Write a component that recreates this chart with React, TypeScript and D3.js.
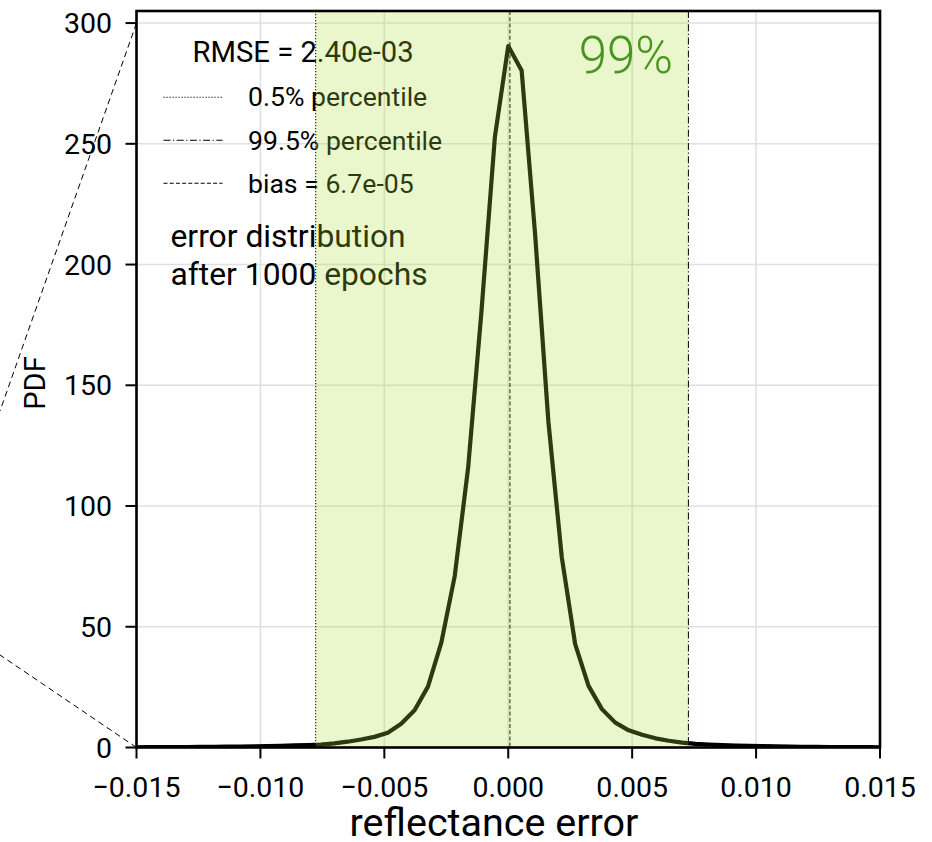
import React from "react";
import * as d3 from "d3";

// ---- data ----
const BIN_CENTERS = [
  -0.01512, -0.01458, -0.01404, -0.0135, -0.01296, -0.01242, -0.01188, -0.01134,
  -0.0108, -0.01026, -0.00972, -0.00918, -0.00864, -0.0081, -0.00756, -0.00702,
  -0.00648, -0.00594, -0.0054, -0.00486, -0.00432, -0.00378, -0.00324, -0.0027,
  -0.00216, -0.00162, -0.00108, -0.00054, 0.0, 0.00054, 0.00108, 0.00162, 0.00216,
  0.0027, 0.00324, 0.00378, 0.00432, 0.00486, 0.0054, 0.00594, 0.00648, 0.00702,
  0.00756, 0.0081, 0.00864, 0.00918, 0.00972, 0.01026, 0.0108, 0.01134, 0.01188,
  0.01242, 0.01296, 0.0135, 0.01404, 0.01458, 0.01512,
];
const PDF_VALUES = [
  0.1, 0.12, 0.14, 0.17, 0.2, 0.25, 0.3, 0.35, 0.42, 0.5, 0.6, 0.7, 0.85, 1.0,
  1.2, 1.7, 2.4, 3.3, 4.4, 6.1, 9.8, 15.4, 25.2, 43.4, 71, 115.7, 180.7, 252.8,
  290.5, 280.4, 213, 134.9, 78.8, 42.8, 25.5, 15.9, 10.3, 7.1, 5.3, 3.8, 2.8, 2.0,
  1.5, 1.2, 1.0, 0.8, 0.65, 0.55, 0.45, 0.38, 0.3, 0.25, 0.2, 0.17, 0.14, 0.12, 0.1,
];
const X_TICKS = [-0.015, -0.01, -0.005, 0, 0.005, 0.01, 0.015];
const Y_TICKS = [0, 50, 100, 150, 200, 250, 300];
const X_DOMAIN = [-0.015, 0.015];
const Y_DOMAIN = [0, 305];
const P_LOW = -0.00777;
const P_HIGH = 0.00727;
const BIAS = 6.7e-5;
const LEGEND_ITEMS = [
  { label: "0.5% percentile", dash: "1.2,1.8" },
  { label: "99.5% percentile", dash: "7,2.5,1.2,2.5" },
  { label: "bias = 6.7e-05", dash: "4,2.2" },
];
const RMSE_TEXT = "RMSE = 2.40e-03";
const NOTE_LINES = ["error distribution", "after 1000 epochs"];
const COVER_TEXT = "99%";
const X_LABEL = "reflectance error";
const Y_LABEL = "PDF";

const W = 932;
const H = 842;
const L = 136.5, R = 880, T = 11, B = 747.5;
const FONT = "Roboto, 'Noto Sans', sans-serif";

function fmtX(v: number) {
  const s = Math.abs(v).toFixed(3);
  return v < 0 ? "\u2212" + s : s;
}

export default function App() {
  const x = d3.scaleLinear().domain(X_DOMAIN).range([L, R]);
  const y = d3.scaleLinear().domain(Y_DOMAIN).range([B, T]);
  const pts = BIN_CENTERS.map((c, i) => [c, PDF_VALUES[i]] as [number, number]);
  const line = d3
    .line<[number, number]>()
    .x((d) => x(d[0]))
    .y((d) => y(d[1]));

  return (
    <div style={{ position: "fixed", left: 0, top: 0 }}>
      <svg width={W} height={H} style={{ display: "block", background: "#fff" }}>
        <defs>
          <clipPath id="plot">
            <rect x={L} y={T} width={R - L} height={B - T} />
          </clipPath>
        </defs>
        {/* grid */}
        <g stroke="#e0e0e0" strokeWidth={1.6}>
          {X_TICKS.map((t) => (
            <line key={"gx" + t} x1={x(t)} x2={x(t)} y1={T} y2={B} />
          ))}
          {Y_TICKS.map((t) => (
            <line key={"gy" + t} x1={L} x2={R} y1={y(t)} y2={y(t)} />
          ))}
        </g>
        {/* curve */}
        <path
          d={line(pts) || ""}
          fill="none"
          stroke="#000"
          strokeWidth={4.2}
          strokeLinejoin="round"
          clipPath="url(#plot)"
        />
        {/* vertical reference lines */}
        <line x1={x(P_LOW)} x2={x(P_LOW)} y1={T} y2={B} stroke="#000" strokeWidth={1.1} strokeDasharray={LEGEND_ITEMS[0].dash} />
        <line x1={x(P_HIGH)} x2={x(P_HIGH)} y1={T} y2={B} stroke="#000" strokeWidth={1.1} strokeDasharray={LEGEND_ITEMS[1].dash} />
        <line x1={x(BIAS)} x2={x(BIAS)} y1={T} y2={B} stroke="#000" strokeWidth={1.1} strokeDasharray={LEGEND_ITEMS[2].dash} />
        {/* legend */}
        <text x={192.5} y={62.3} fontFamily={FONT} fontSize={29.2} fill="#000">
          {RMSE_TEXT}
        </text>
        {LEGEND_ITEMS.map((it, i) => (
          <g key={it.label}>
            <line
              x1={163.5}
              x2={222.5}
              y1={97.3 + i * 43}
              y2={97.3 + i * 43}
              stroke="#000"
              strokeWidth={1.1}
              strokeDasharray={it.dash}
            />
            <text x={248} y={106 + i * 43.6} fontFamily={FONT} fontSize={26.6} fill="#000">
              {it.label}
            </text>
          </g>
        ))}
        {NOTE_LINES.map((s, i) => (
          <text key={s} x={170.5} y={246.7 + i * 38.3} fontFamily={FONT} fontSize={31.8} fill="#000">
            {s}
          </text>
        ))}
        {/* coverage band overlay */}
        <rect
          x={x(P_LOW)}
          y={T}
          width={x(P_HIGH) - x(P_LOW)}
          height={B - T}
          fill="#aee03a"
          fillOpacity={0.26}
        />
        <text
          x={673}
          y={73.3}
          textAnchor="end"
          fontFamily={FONT}
          fontWeight={300}
          fontSize={51}
          fill="#47951f"
        >
          {COVER_TEXT}
        </text>
        {/* frame */}
        <rect x={L} y={T} width={R - L} height={B - T} fill="none" stroke="#000" strokeWidth={2.6} />
        {/* ticks */}
        <g stroke="#000" strokeWidth={2}>
          {X_TICKS.map((t) => (
            <line key={"tx" + t} x1={x(t)} x2={x(t)} y1={B} y2={B + 11} />
          ))}
          {Y_TICKS.map((t) => (
            <line key={"ty" + t} x1={L - 11} x2={L} y1={y(t)} y2={y(t)} />
          ))}
        </g>
        {X_TICKS.map((t) => (
          <text key={"lx" + t} x={x(t)} y={797} textAnchor="middle" fontFamily={FONT} fontSize={28.5} fill="#000">
            {fmtX(t)}
          </text>
        ))}
        {Y_TICKS.map((t) => (
          <text key={"ly" + t} x={112} y={y(t) + 10} textAnchor="end" fontFamily={FONT} fontSize={28.5} fill="#000">
            {t}
          </text>
        ))}
        <text x={494} y={836} textAnchor="middle" fontFamily={FONT} fontSize={39.5} fill="#000">
          {X_LABEL}
        </text>
        <text
          transform={`translate(45,383) rotate(-90)`}
          textAnchor="middle"
          fontFamily={FONT}
          fontSize={29}
          fill="#000"
        >
          {Y_LABEL}
        </text>
        {/* zoom connector lines */}
        <line x1={x(-0.015)} y1={y(300)} x2={0} y2={411} stroke="#000" strokeWidth={1} strokeDasharray="6,4" />
        <line x1={x(-0.015)} y1={y(0)} x2={0} y2={655} stroke="#000" strokeWidth={1} strokeDasharray="6,4" />
      </svg>
    </div>
  );
}
